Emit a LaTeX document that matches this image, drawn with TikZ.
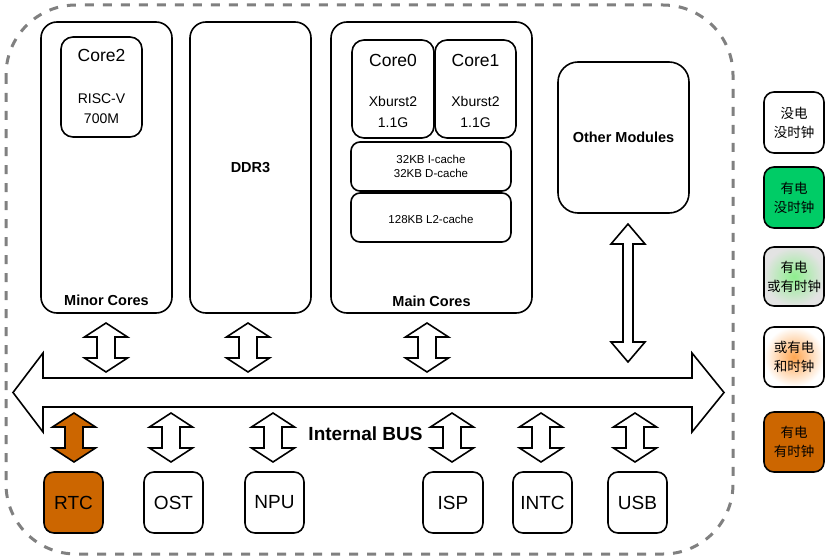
\documentclass[tikz,border=0pt]{standalone}
\usepackage{fontspec}
\setmainfont{Liberation Sans}
\newfontfamily\cjk{Noto Sans CJK SC}
\usetikzlibrary{fit}
\definecolor{orng}{HTML}{CC6600}
\definecolor{grn}{HTML}{00CC66}
\definecolor{dashgray}{HTML}{808080}
\definecolor{lgray}{HTML}{E3E3E3}
\definecolor{glowgreen}{HTML}{8EEF8E}
\definecolor{gloworange}{HTML}{FFA54F}
\newcommand{\fsz}[2]{\fontsize{#1pt}{#2pt}\selectfont}
\tikzset{
  box/.style={draw, line width=1.6pt, rounded corners=#1, inner sep=0pt},
  box/.default=10pt,
  blockarrow/.style={draw, line width=1.6pt, line join=miter, fill=#1},
  blockarrow/.default=white,
  pics/vdarrow/.style={code={
    \draw[blockarrow=#1] (0,-24.5) -- (21.5,-10.5) -- (9,-10.5) -- (9,10.5) -- (21.5,10.5)
      -- (0,24.5) -- (-21.5,10.5) -- (-9,10.5) -- (-9,-10.5) -- (-21.5,-10.5) -- cycle;
  }},
  pics/vdarrow/.default=white,
  bigtxt/.style={font=\fsz{17.5}{21}},
  midtxt/.style={font=\fsz{14}{17}},
  boldtxt/.style={font=\bfseries\fsz{14.5}{17}},
  smalltxt/.style={font=\fsz{11.5}{14}, align=center},
  periphtxt/.style={font=\fsz{19}{22}},
  legendtxt/.style={font=\cjk\fsz{13.5}{19}, align=center, inner sep=0pt},
}
\begin{document}
\begin{tikzpicture}[x=1pt,y=-1pt]
\useasboundingbox (0,0) rectangle (829,559);

% outer dashed boundary
\draw[dashgray, line width=3pt, dash pattern=on 9pt off 9pt, rounded corners=70pt]
  (6,5) rectangle (733,554);

% Minor cores
\node[box=16pt, fit={(41,22)(172,313)}] (minor) {};
\node[box=12pt, fit={(61,37)(142,137)}] (core2) {};
\node[bigtxt] (core2t) at (101.5,55) {Core2};
\node[midtxt] (core2a) at (101.5,99) {RISC-V};
\node[midtxt] (core2b) at (101.5,119) {700M};
\node[boldtxt] (minorl) at (106.5,300) {Minor Cores};

% DDR3
\node[box=16pt, fit={(190,22)(311,313)}] (ddr) {};
\node[boldtxt] (ddrl) at (ddr.center) {DDR3};

% Main cores
\node[box=16pt, fit={(331,22)(532,313)}] (main) {};
\node[box=12pt, fit={(352,40)(434,138)}] (core0) {};
\node[box=12pt, fit={(435,40)(516,138)}] (core1) {};
\node[bigtxt] (core0t) at (393,60) {Core0};
\node[midtxt] (core0a) at (393,101) {Xburst2};
\node[midtxt] (core0b) at (393,123) {1.1G};
\node[bigtxt] (core1t) at (475.5,60) {Core1};
\node[midtxt] (core1a) at (475.5,101) {Xburst2};
\node[midtxt] (core1b) at (475.5,123) {1.1G};
\node[box=9pt, fit={(351,142)(511,191)}] (l1) {};
\node[smalltxt] (l1t) at (l1.center) {32KB I-cache\\32KB D-cache};
\node[box=9pt, fit={(351,193)(511,242)}] (l2) {};
\node[smalltxt] (l2t) at (431,219) {128KB L2-cache};
\node[boldtxt] (mainl) at (431.5,301) {Main Cores};

% Other modules
\node[box=20pt, fit={(558,62)(689,213)}] (other) {};
\node[boldtxt] (otherl) at (other.center) {Other Modules};

% Internal bus
\draw[blockarrow] (13,392.5) -- (43,353) -- (43,378) -- (692,378) -- (692,353) -- (724,392.5)
  -- (692,432) -- (692,407) -- (43,407) -- (43,432) -- cycle;
\node[font=\bfseries\fsz{19}{22}] (bus) at (365.5,434) {Internal BUS};

% tall arrow to other modules
\draw[blockarrow] (628,224) -- (645,244) -- (633,244) -- (633,342) -- (645,342) -- (628,362)
  -- (611,342) -- (623,342) -- (623,244) -- (611,244) -- cycle;

% peripherals
\node[box, fit={(44,472)(103,533)}, fill=orng] (rtc) {};
\node[box, fit={(144,472)(203,533)}] (ost) {};
\node[box, fit={(245,472)(304,533)}] (npu) {};
\node[box, fit={(423,472)(483,533)}] (isp) {};
\node[box, fit={(513,472)(572,533)}] (intc) {};
\node[box, fit={(608,472)(667,533)}] (usb) {};
\node[periphtxt] at (rtc.center) {RTC};
\node[periphtxt] at (ost.center) {OST};
\node[periphtxt] at (npu.center) {NPU};
\node[periphtxt] at (isp.center) {ISP};
\node[periphtxt] at (intc.center) {INTC};
\node[periphtxt] at (usb.center) {USB};

% bus connectors
\pic at (106,347.5) {vdarrow};
\pic at (248,347.5) {vdarrow};
\pic at (427,347.5) {vdarrow};
\pic at (74,437.5) {vdarrow=orng};
\pic at (171,437.5) {vdarrow};
\pic at (273,437.5) {vdarrow};
\pic at (452,437.5) {vdarrow};
\pic at (541,437.5) {vdarrow};
\pic at (635,437.5) {vdarrow};

% legend
\node[box, fit={(764,92)(824,153)}] (lg1) {};
\node[legendtxt] at (lg1.center) {没电\\没时钟};
\node[box, fit={(764,167)(824,228)}, fill=grn] (lg2) {};
\node[legendtxt] at (lg2.center) {有电\\没时钟};
\node[box, fit={(764,247)(824,306)}, inner color=glowgreen, outer color=lgray] (lg3) {};
\node[legendtxt] at (lg3.center) {有电\\或有时钟};
\node[box, fit={(764,327)(824,387)}, inner color=gloworange, outer color=white] (lg4) {};
\node[legendtxt] at (lg4.center) {或有电\\和时钟};
\node[box, fit={(764,412)(824,472)}, fill=orng] (lg5) {};
\node[legendtxt] at (lg5.center) {有电\\有时钟};
\end{tikzpicture}
\end{document}
